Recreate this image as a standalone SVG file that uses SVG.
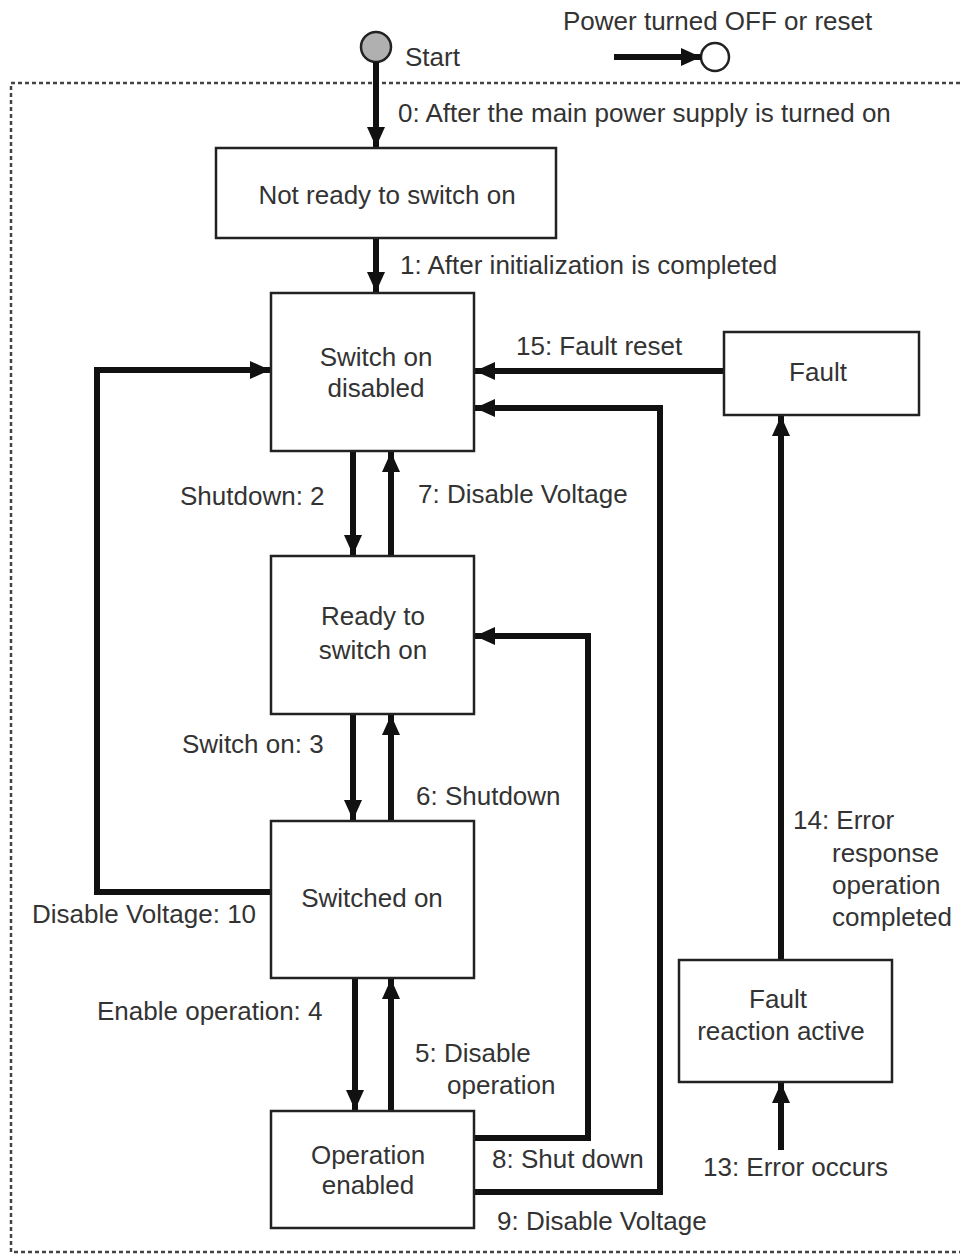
<svg xmlns="http://www.w3.org/2000/svg" width="960" height="1256" viewBox="0 0 960 1256">
<style>
.box{fill:#fff;stroke:#222;stroke-width:2.5}
.t{font-family:"Liberation Sans",Arial,sans-serif;font-size:26px;fill:#333}
.m{text-anchor:middle}
.c{fill:none;stroke:#111;stroke-width:6}
</style>
<defs>
<marker id="ah" markerUnits="userSpaceOnUse" markerWidth="22" markerHeight="20" refX="20" refY="10" orient="auto">
<path d="M0,1 L20,10 L0,19 z" fill="#111"/>
</marker>
</defs>
<rect width="960" height="1256" fill="#fff"/>
<path d="M960,83 H11 V1252 H960" fill="none" stroke="#444" stroke-width="2.5" stroke-dasharray="4 3"/>

<g id="start">
<circle cx="376" cy="47" r="15" fill="#b0b0b0" stroke="#222" stroke-width="2.5"/>
<text class="t" x="405" y="66">Start</text>
</g>
<g id="end">
<circle cx="715" cy="57" r="14" fill="#fff" stroke="#222" stroke-width="2.5"/>
<text class="t" x="563" y="30">Power turned OFF or reset</text>
</g>

<g id="connectors">
<line class="c" x1="614" y1="57" x2="701" y2="57" marker-end="url(#ah)"/>
<line class="c" x1="376" y1="62" x2="376" y2="147" marker-end="url(#ah)"/>
<line class="c" x1="376" y1="238" x2="376" y2="292" marker-end="url(#ah)"/>
<line class="c" x1="724" y1="371" x2="475" y2="371" marker-end="url(#ah)"/>
<polyline class="c" points="474,1192 660,1192 660,408 475,408" marker-end="url(#ah)"/>
<line class="c" x1="353" y1="451" x2="353" y2="555" marker-end="url(#ah)"/>
<line class="c" x1="391" y1="556" x2="391" y2="452" marker-end="url(#ah)"/>
<line class="c" x1="353" y1="714" x2="353" y2="820" marker-end="url(#ah)"/>
<line class="c" x1="391" y1="821" x2="391" y2="715" marker-end="url(#ah)"/>
<line class="c" x1="355" y1="978" x2="355" y2="1110" marker-end="url(#ah)"/>
<line class="c" x1="391" y1="1111" x2="391" y2="979" marker-end="url(#ah)"/>
<polyline class="c" points="474,1138 588,1138 588,636 475,636" marker-end="url(#ah)"/>
<polyline class="c" points="271,892 97,892 97,370 270,370" marker-end="url(#ah)"/>
<line class="c" x1="781" y1="1150" x2="781" y2="1083" marker-end="url(#ah)"/>
<line class="c" x1="781" y1="960" x2="781" y2="416" marker-end="url(#ah)"/>
<text class="t" x="398" y="122">0: After the main power supply is turned on</text>
<text class="t" x="400" y="274">1: After initialization is completed</text>
<text class="t" x="516" y="355">15: Fault reset</text>
<text class="t" x="180" y="505">Shutdown: 2</text>
<text class="t" x="418" y="503">7: Disable Voltage</text>
<text class="t" x="182" y="753">Switch on: 3</text>
<text class="t" x="416" y="805">6: Shutdown</text>
<text class="t" x="32" y="923">Disable Voltage: 10</text>
<text class="t" x="97" y="1020">Enable operation: 4</text>
<text class="t" x="415" y="1062">5: Disable</text>
<text class="t" x="447" y="1094">operation</text>
<text class="t" x="492" y="1168">8: Shut down</text>
<text class="t" x="497" y="1230">9: Disable Voltage</text>
<text class="t" x="703" y="1176">13: Error occurs</text>
<text class="t" x="793" y="829">14: Error</text>
<text class="t" x="832" y="862">response</text>
<text class="t" x="832" y="894">operation</text>
<text class="t" x="832" y="926">completed</text>
</g>

<g id="not-ready">
<rect class="box" x="216" y="148" width="340" height="90"/>
<text class="t m" x="387" y="204">Not ready to switch on</text>
</g>
<g id="switch-on-disabled">
<rect class="box" x="271" y="293" width="203" height="158"/>
<text class="t m" x="376" y="366">Switch on</text>
<text class="t m" x="376" y="397">disabled</text>
</g>
<g id="fault">
<rect class="box" x="724" y="332" width="195" height="83"/>
<text class="t m" x="818" y="381">Fault</text>
</g>
<g id="ready-to-switch-on">
<rect class="box" x="271" y="556" width="203" height="158"/>
<text class="t m" x="373" y="625">Ready to</text>
<text class="t m" x="373" y="659">switch on</text>
</g>
<g id="switched-on">
<rect class="box" x="271" y="821" width="203" height="157"/>
<text class="t m" x="372" y="907">Switched on</text>
</g>
<g id="operation-enabled">
<rect class="box" x="271" y="1111" width="203" height="117"/>
<text class="t m" x="368" y="1164">Operation</text>
<text class="t m" x="368" y="1194">enabled</text>
</g>
<g id="fault-reaction-active">
<rect class="box" x="679" y="960" width="213" height="122"/>
<text class="t m" x="778" y="1008">Fault</text>
<text class="t m" x="781" y="1040">reaction active</text>
</g>
</svg>
